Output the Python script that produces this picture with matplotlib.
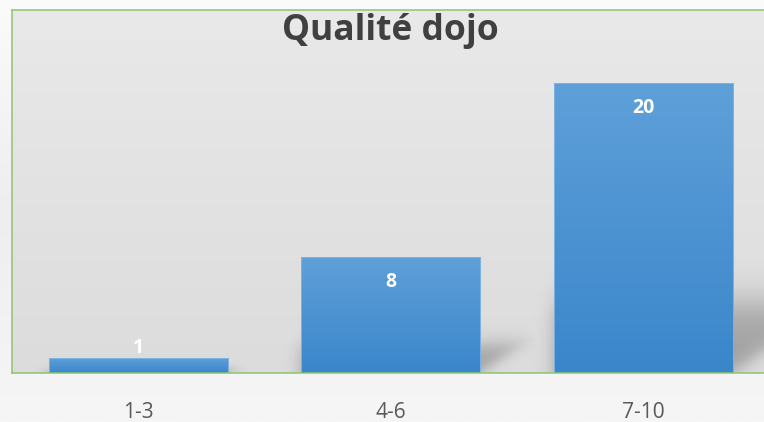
import numpy as np
import matplotlib
matplotlib.use("Agg")
import matplotlib.pyplot as plt
from matplotlib.colors import LinearSegmentedColormap

title = "Qualité dojo"
categories = ["1-3", "4-6", "7-10"]
values = [1, 8, 20]

W, H, DPI = 764, 422, 100
fig = plt.figure(figsize=(W / DPI, H / DPI), dpi=DPI)
fig.patch.set_facecolor("#f4f4f4")

# figure background gradient
bg = fig.add_axes([0, 0, 1, 1], zorder=-10)
grad = np.linspace(0, 1, 256).reshape(-1, 1)
bg_cmap = LinearSegmentedColormap.from_list("bg", ["#fbfbfb", "#eeeeee", "#f6f6f6"])
bg.imshow(grad, aspect="auto", cmap=bg_cmap, extent=[0, 1, 0, 1])
bg.axis("off")

left_px, right_px, top_px, bot_px = 12, 769.5, 10, 373
ax = fig.add_axes([left_px / W, (H - bot_px) / H, (right_px - left_px) / W, (bot_px - top_px) / H])
x = np.arange(len(categories))
ax.set_xlim(-0.5, len(categories) - 0.5)
ax.set_ylim(0, 25)

# plot area gradient
pa_cmap = LinearSegmentedColormap.from_list("pa", ["#dcdcdc", "#e9e9e9"])
ax.imshow(np.linspace(0, 1, 256).reshape(-1, 1), aspect="auto", cmap=pa_cmap,
          extent=[-0.5, len(categories) - 0.5, 0, 25], origin="lower", zorder=0)

bw = 0.71
px_x = (right_px - left_px) / len(categories)
px_y = (bot_px - top_px) / 25.0

# shadows
gx = np.linspace(-0.5, len(categories) - 0.5, 900)
gy = np.linspace(0, 25, 500)
GX, GY = np.meshgrid(gx, gy)
alpha = np.zeros_like(GX)
def sig(z):
    return 1 / (1 + np.exp(-z))
for xi, v in zip(x, values):
    xr = xi + bw / 2
    top = 0.24 * v
    s = 0.34 * v * px_y / px_x
    sy = 0.06 * v + 0.3
    sx = 0.02 + 0.01 * v * px_y / px_x
    edge = xr + s * np.clip(GY / top, 0, 1.2)
    a = sig((top - GY) / (sy * 0.5)) * sig((edge - GX) / sx) * sig((GX - (xi - bw / 2)) / 0.02)
    alpha = np.maximum(alpha, a * 0.26)
sh = np.zeros(GX.shape + (4,))
sh[..., 3] = alpha
ax.imshow(sh, aspect="auto", extent=[gx[0], gx[-1], 0, 25], origin="lower", zorder=1,
          interpolation="bilinear")

bars = ax.bar(x, values, width=bw, color="#4a90d4", edgecolor="#7fb2e2", linewidth=0.7, zorder=2)
bar_cmap = LinearSegmentedColormap.from_list("bar", ["#3a86cb", "#5fa0d9"])
for b in bars:
    im = ax.imshow(np.linspace(0, 1, 256).reshape(-1, 1), aspect="auto", cmap=bar_cmap,
                   extent=[b.get_x(), b.get_x() + b.get_width(), 0, b.get_height()],
                   origin="lower", zorder=3)
    im.set_clip_path(b)
for b in bars:
    b.set_facecolor("none")
    b.set_zorder(4)

for xi, v in zip(x, values):
    hpx = v * px_y
    off = -25 if hpx > 40 else 10
    ax.annotate(str(v), (xi, v), xytext=(0, off * 72 / DPI), textcoords="offset points",
                ha="center", va="center", color="white", fontsize=14, fontweight="bold",
                family="Open Sans", zorder=5)

ax.text(0.5, 1 - 21 / (bot_px - top_px), title, transform=ax.transAxes, ha="center", va="center",
        fontsize=25.5, fontweight="bold", color="#404040", family="Open Sans", zorder=6)

green = "#8cc56e"
for side in ["left", "top", "bottom"]:
    ax.spines[side].set_color(green)
    ax.spines[side].set_linewidth(1.1)
    ax.spines[side].set_zorder(7)
ax.spines["right"].set_visible(False)
ax.set_yticks([])
ax.set_xticks(x)
ax.set_xticklabels(categories, fontsize=15, color="#595959", family="Open Sans")
ax.tick_params(axis="x", length=0, pad=21)

fig.savefig("out.png", dpi=DPI)
